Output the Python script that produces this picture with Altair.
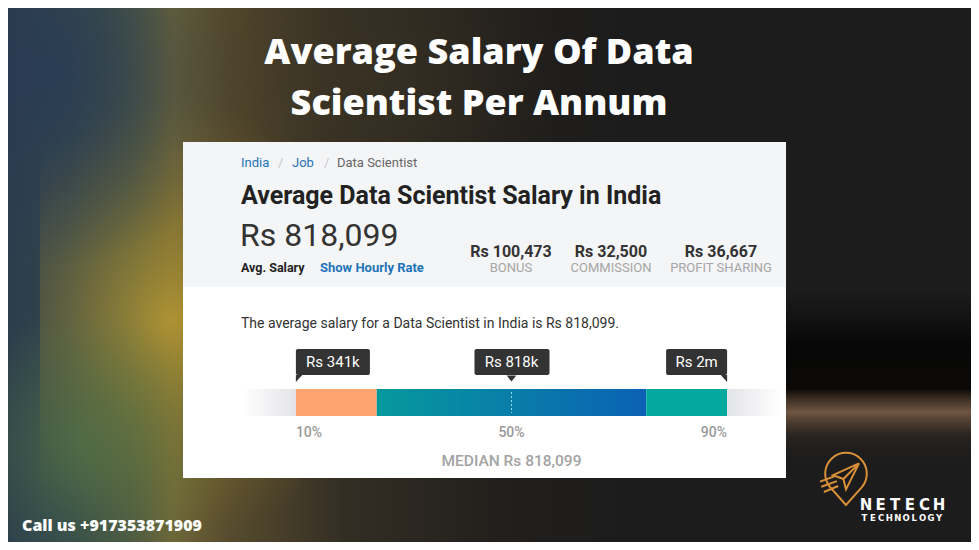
import altair as alt
import pandas as pd

# ---------------- data ----------------
title_lines = ["Average Salary Of Data", "Scientist Per Annum"]
breadcrumb = ["India", "Job", "Data Scientist"]
heading = ["Average Data Scientist Salary in India"]
avg_salary = ["Rs 818,099"]
avg_caption = ["Avg. Salary", "Show Hourly Rate"]
extra_values = ["Rs 100,473", "Rs 32,500", "Rs 36,667"]
extra_labels = ["BONUS", "COMMISSION", "PROFIT SHARING"]
sentence = ["The average salary for a Data Scientist in India is Rs 818,099."]
percentiles = [10, 50, 90]
percentile_labels = ["10%", "50%", "90%"]
percentile_salaries = ["Rs 341k", "Rs 818k", "Rs 2m"]
band_start = [0, 10, 25, 75, 90]
band_end = [10, 25, 75, 90, 100]
median_label = ["MEDIAN Rs 818,099"]
contact = ["Call us +917353871909"]
brand = ["NETECH", "TECHNOLOGY"]

W, H = 963, 534


def P(v):
    # page pixel -> chart pixel (page has an 8px margin)
    return v - 8


def grad(stops, vertical=False):
    return alt.LinearGradient(
        gradient="linear",
        stops=[alt.GradientStop(offset=o, color=c) for o, c in stops],
        x1=0, x2=0 if vertical else 1, y1=0, y2=1 if vertical else 0,
    )


def rgrad(stops, cx=0.5, cy=0.5, r=0.5):
    return alt.RadialGradient(
        gradient="radial",
        stops=[alt.GradientStop(offset=o, color=c) for o, c in stops],
        x1=cx, y1=cy, r1=0, x2=cx, y2=cy, r2=r,
    )


def box(x0, x1, y0, y1, fill):
    return alt.Chart(pd.DataFrame({"k": [0]})).mark_rect(color=fill).encode(
        x=alt.value(P(x0)), x2=alt.value(P(x1)), y=alt.value(P(y0)), y2=alt.value(P(y1))
    )


def txt(s, x, y, size, color, weight="normal", align="left", font="Roboto"):
    return alt.Chart(pd.DataFrame({"t": [s]})).mark_text(
        align=align, baseline="alphabetic", font=font, fontSize=size,
        fontWeight=weight, color=color,
    ).encode(x=alt.value(P(x)), y=alt.value(P(y)), text="t:N")


layers = []

# ---------------- background ----------------
layers.append(box(8, 971, 8, 542, "#1c1c1c"))
layers.append(box(8, 620, 8, 542, grad([
    (0.0, "#2c3c4c"), (0.1, "#34474c"), (0.2, "#4c5742"), (0.27, "#6e6638"),
    (0.36, "#574c2e"), (0.55, "#332e24"), (0.8, "#221f1c"), (1.0, "#1c1c1c")])))
layers.append(box(40, 300, 100, 540, rgrad([
    (0.0, "rgba(200,165,50,0.7)"), (0.5, "rgba(170,140,45,0.35)"), (1.0, "rgba(150,120,40,0)")])))
layers.append(box(8, 330, 8, 330, rgrad([
    (0.0, "rgba(40,58,85,0.75)"), (1.0, "rgba(40,58,85,0)")], cx=0.15, cy=0.2, r=0.6)))
layers.append(box(8, 260, 300, 542, rgrad([
    (0.0, "rgba(80,120,70,0.6)"), (1.0, "rgba(80,120,70,0)")], cx=0.3, cy=0.6, r=0.55)))
layers.append(box(150, 560, 8, 150, rgrad([
    (0.0, "rgba(60,52,36,0.6)"), (1.0, "rgba(60,52,36,0)")])))
layers.append(box(786, 971, 290, 470, grad([
    (0.0, "rgba(12,12,12,0)"), (0.3, "rgba(6,6,6,0.95)"),
    (0.55, "rgba(10,8,6,0.9)"), (0.68, "rgba(140,105,78,0.75)"),
    (0.82, "rgba(60,46,36,0.35)"), (1.0, "rgba(28,28,28,0)")], vertical=True)))

# ---------------- title ----------------
layers.append(txt(title_lines[0], 479, 64, 36, "#ffffff", 800, "center", "Open Sans"))
layers.append(txt(title_lines[1], 479, 115, 36, "#ffffff", 800, "center", "Open Sans"))

# ---------------- card ----------------
layers.append(box(183, 786, 142, 478, "#ffffff"))
layers.append(box(183, 786, 142, 287, "#f4f5f7"))

link = "#1f73b7"
layers.append(txt(breadcrumb[0], 241, 167, 13, link))
layers.append(txt("/", 278, 167, 13, "#c8c8c8"))
layers.append(txt(breadcrumb[1], 292, 167, 13, link))
layers.append(txt("/", 324, 167, 13, "#c8c8c8"))
layers.append(txt(breadcrumb[2], 337, 167, 13, "#666666"))

layers.append(txt(heading[0], 241, 204, 25, "#222222", "bold"))
layers.append(txt(avg_salary[0], 240, 246, 32, "#333333"))
layers.append(txt(avg_caption[0], 241, 272, 12.5, "#222222", "bold"))
layers.append(txt(avg_caption[1], 320, 272, 13, link, "bold"))

for val, lab, cx in zip(extra_values, extra_labels, [511, 611, 721]):
    layers.append(txt(val, cx, 257, 16, "#333333", "bold", "center"))
    layers.append(txt(lab, cx, 272, 13, "#a6a6a6", "normal", "center"))

layers.append(txt(sentence[0], 241, 328, 14, "#333333"))

# ---------------- percentile bar ----------------
pct_df = pd.DataFrame({"p": percentiles, "label": percentile_labels, "salary": percentile_salaries})
band_df = pd.DataFrame({"start": band_start, "end": band_end})
xs = alt.Scale(domain=[0, 100], range=[P(242), P(781)])
X = lambda f: alt.X(f, scale=xs, axis=None)

band_fills = [
    grad([(0.0, "#ffffff"), (1.0, "#e3e4e8")]),
    "#fda470",
    grad([(0.0, "#06999d"), (1.0, "#0b61b4")]),
    "#04a99d",
    grad([(0.0, "#e3e4e8"), (1.0, "#ffffff")]),
]
for i, fill in enumerate(band_fills):
    layers.append(
        alt.Chart(band_df.iloc[[i]]).mark_rect(color=fill).encode(
            x=X("start:Q"), x2="end:Q", y=alt.value(P(389)), y2=alt.value(P(416))
        )
    )

layers.append(
    alt.Chart(pct_df.iloc[[1]]).mark_rule(color="#8fdcec", strokeDash=[2, 2], strokeWidth=1).encode(
        x=X("p:Q"), y=alt.value(P(392)), y2=alt.value(P(413))
    )
)

tip_cfg = [
    # (xOffset, x2Offset, text dx, pointer path, pointer size)
    (0, 74, 37, "M0,-1 L1.8,-1 L0,1 Z", 49),
    (-37, 38, 0, "M-1.6,-1 L1.6,-1 L0,1 Z", 36),
    (-61, 0, -30.5, "M0,-1 L-1.8,-1 L0,1 Z", 49),
]
for i, (o0, o1, tdx, path, sz) in enumerate(tip_cfg):
    row = alt.Chart(pct_df.iloc[[i]])
    layers.append(
        row.mark_rect(color="#333333", xOffset=o0, x2Offset=o1, cornerRadius=2).encode(
            x=X("p:Q"), x2="p:Q", y=alt.value(P(349)), y2=alt.value(P(375))
        )
    )
    layers.append(
        row.mark_point(shape=path, size=sz, filled=True, color="#333333", opacity=1).encode(
            x=X("p:Q"), y=alt.value(P(378.5))
        )
    )
    layers.append(
        row.mark_text(dx=tdx, align="center", baseline="alphabetic", font="Roboto",
                      fontSize=15, color="#ffffff").encode(
            x=X("p:Q"), y=alt.value(P(367)), text="salary:N"
        )
    )

for i, al in enumerate(["left", "center", "right"]):
    layers.append(
        alt.Chart(pct_df.iloc[[i]]).mark_text(
            align=al, baseline="alphabetic", font="Roboto", fontSize=14,
            fontWeight=500, color="#9a9a9a",
        ).encode(x=X("p:Q"), y=alt.value(P(437)), text="label:N")
    )

layers.append(
    alt.Chart(pct_df.iloc[[1]].assign(m=median_label)).mark_text(
        align="center", baseline="alphabetic", font="Roboto", fontSize=15.5,
        fontWeight=500, color="#a3a3a3",
    ).encode(x=X("p:Q"), y=alt.value(P(466)), text="m:N")
)

# ---------------- footer ----------------
layers.append(txt(contact[0], 22, 531, 16, "#ffffff", 800, "left", "Open Sans"))

pin = ("M0,1 L-0.62,0.3 A0.8,0.8 0 1,1 0.62,0.3 Z "
       "M0.5,-0.6 L-0.5,-0.15 L-0.1,0.0 Z M0.5,-0.6 L-0.1,0.0 L0.0,0.4 Z "
       "M-1.0,0.1 L-0.45,-0.1 M-0.95,0.3 L-0.35,0.08 M-0.85,0.5 L-0.3,0.27")
layers.append(
    alt.Chart(pd.DataFrame({"k": [0]})).mark_point(
        shape=pin, size=2704, filled=False, color="#d99038", strokeWidth=2, opacity=1
    ).encode(x=alt.value(P(846)), y=alt.value(P(479)))
)
# brand wordmark, spaced letter by letter
for i, ch in enumerate(brand[0]):
    layers.append(txt(ch, 866 + i * 14.6, 510, 15, "#ffffff", "bold", "center", "DejaVu Sans"))
for i, ch in enumerate(brand[1]):
    layers.append(txt(ch, 864.5 + i * 8.3, 521, 8.5, "#ffffff", "bold", "center", "DejaVu Sans"))

chart = alt.layer(*layers).properties(
    width=W, height=H, padding=0,
    autosize=alt.AutoSizeParams(type="none"),
    background="#1c1c1c",
).configure_view(stroke=None)

chart.save("out.html", embed_options={"renderer": "svg", "actions": False})
